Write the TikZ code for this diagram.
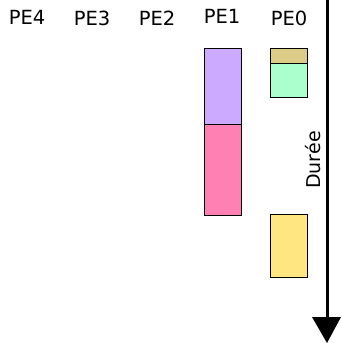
\documentclass[tikz,border=0pt]{standalone}
\usepackage{fontspec}
\setmainfont{DejaVu Sans}
\begin{document}
\begin{tikzpicture}[x=1pt,y=-1pt,
  pelabel/.style={anchor=base,inner sep=0pt,font=\fontsize{19.5}{22}\selectfont},
  task/.style={draw=black,line width=0.8pt}]
\useasboundingbox (0,0) rectangle (341,343);
% processor labels
\node[pelabel] (pe4) at (27,24) {PE4};
\node[pelabel] (pe3) at (92,25) {PE3};
\node[pelabel] (pe2) at (157,25) {PE2};
\node[pelabel] (pe1) at (222,23.5) {PE1};
\node[pelabel] (pe0) at (289,25.5) {PE0};
% tasks on PE1
\filldraw[task,fill={rgb,255:red,204;green,170;blue,255}] (204,48) rectangle (241,124);
\filldraw[task,fill={rgb,255:red,255;green,128;blue,178}] (204,124) rectangle (241,215);
% tasks on PE0
\filldraw[task,fill={rgb,255:red,221;green,204;blue,136}] (270,48) rectangle (307,63);
\filldraw[task,fill={rgb,255:red,170;green,255;blue,204}] (270,63) rectangle (307,97);
\filldraw[task,fill={rgb,255:red,255;green,230;blue,128}] (270,214) rectangle (307,277);
% time axis
\coordinate (ttop) at (327,0);
\coordinate (tend) at (327,318);
\draw[line width=3pt] (ttop) -- (tend);
\fill (312,317) -- (341,317) -- (327,343) -- cycle;
\node[pelabel,rotate=90,font=\fontsize{19}{22}\selectfont] (dur) at (320.5,160) {Durée};
\end{tikzpicture}
\end{document}
